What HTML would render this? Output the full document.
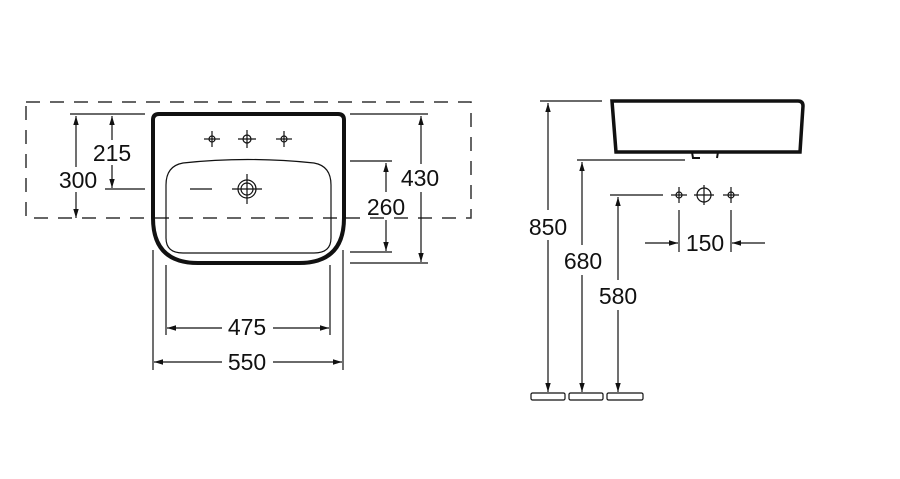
<!DOCTYPE html>
<html><head><meta charset="utf-8"><style>
html,body{margin:0;padding:0;background:#fff;width:900px;height:479px;overflow:hidden}
svg text{font-family:"Liberation Sans",Arial,sans-serif;font-size:23px;fill:#111}
</style></head><body>
<svg width="900" height="479" viewBox="0 0 900 479" xmlns="http://www.w3.org/2000/svg">
<defs>
<marker id="a" viewBox="0 0 10 10" refX="10" refY="5" markerWidth="9" markerHeight="9" orient="auto-start-reverse" markerUnits="userSpaceOnUse"><path d="M0,2 L10,5 L0,8 z" fill="#111"/></marker>
</defs>
<g stroke="#111" fill="none">
<rect x="26" y="102" width="445" height="116" stroke-width="1.5" stroke-dasharray="14,10" stroke="#333"/>
<path d="M153,120 Q153,114 159,114 L338,114 Q344,114 344,120 L344,218 Q344,263 299,263 L198,263 Q153,263 153,218 Z" stroke-width="4" fill="#fff"/>
<line x1="155" y1="218" x2="342" y2="218" stroke-width="1.5" stroke-dasharray="14,10" stroke="#333"/>
<path d="M183,163 Q247,156 314,163 Q331,166 331,185 L331,238 Q331,253 314,253 L183,253 Q166,253 166,238 L166,185 Q166,166 183,163 Z" stroke-width="1.2"/>
<line x1="190" y1="189" x2="212" y2="189" stroke-width="1.2"/>
<g stroke-width="1.2">
<circle cx="212" cy="139" r="3"/><line x1="204" y1="139" x2="220" y2="139"/><line x1="212" y1="131" x2="212" y2="147"/>
<circle cx="247" cy="139" r="4"/><line x1="238" y1="139" x2="256" y2="139"/><line x1="247" y1="130" x2="247" y2="148"/>
<circle cx="284" cy="139" r="3"/><line x1="276" y1="139" x2="292" y2="139"/><line x1="284" y1="131" x2="284" y2="147"/>
<circle cx="247" cy="189" r="9"/><circle cx="247" cy="189" r="6"/><line x1="232" y1="189" x2="262" y2="189"/><line x1="247" y1="174" x2="247" y2="204"/>
</g>
<g stroke-width="1.2">
<line x1="70" y1="114" x2="145" y2="114"/>
<line x1="105" y1="189" x2="145" y2="189"/>
<line x1="76" y1="116" x2="76" y2="167" marker-start="url(#a)"/>
<line x1="76" y1="192" x2="76" y2="218" marker-end="url(#a)"/>
<line x1="112" y1="116" x2="112" y2="140" marker-start="url(#a)"/>
<line x1="112" y1="165" x2="112" y2="188" marker-end="url(#a)"/>
<line x1="350" y1="114" x2="428" y2="114"/>
<line x1="350" y1="263" x2="428" y2="263"/>
<line x1="350" y1="161" x2="392" y2="161"/>
<line x1="350" y1="252" x2="392" y2="252"/>
<line x1="421" y1="116" x2="421" y2="164" marker-start="url(#a)"/>
<line x1="421" y1="192" x2="421" y2="262" marker-end="url(#a)"/>
<line x1="386" y1="163" x2="386" y2="192" marker-start="url(#a)"/>
<line x1="386" y1="220" x2="386" y2="251" marker-end="url(#a)"/>
<line x1="166" y1="265" x2="166" y2="335"/>
<line x1="330" y1="265" x2="330" y2="335"/>
<line x1="153" y1="250" x2="153" y2="370"/>
<line x1="343" y1="250" x2="343" y2="370"/>
<line x1="167" y1="328" x2="222" y2="328" marker-start="url(#a)"/>
<line x1="273" y1="328" x2="329" y2="328" marker-end="url(#a)"/>
<line x1="154" y1="362" x2="222" y2="362" marker-start="url(#a)"/>
<line x1="273" y1="362" x2="342" y2="362" marker-end="url(#a)"/>
</g>
<path d="M612,101 L798,101 Q803,101 803,106 L800,152 L616,152 Z" stroke-width="3.5"/>
<path d="M692,152 L693,158 L700,158 M718,152 L717,158" stroke-width="2"/>
<g stroke-width="1.2">
<line x1="540" y1="101" x2="602" y2="101"/>
<line x1="577" y1="160" x2="685" y2="160"/>
<line x1="610" y1="195" x2="663" y2="195"/>
<line x1="548" y1="103" x2="548" y2="210" marker-start="url(#a)"/>
<line x1="548" y1="240" x2="548" y2="392" marker-end="url(#a)"/>
<line x1="582" y1="162" x2="582" y2="245" marker-start="url(#a)"/>
<line x1="582" y1="275" x2="582" y2="392" marker-end="url(#a)"/>
<line x1="618" y1="197" x2="618" y2="280" marker-start="url(#a)"/>
<line x1="618" y1="310" x2="618" y2="392" marker-end="url(#a)"/>
<circle cx="679" cy="195" r="3"/><line x1="671" y1="195" x2="687" y2="195"/><line x1="679" y1="187" x2="679" y2="203"/>
<circle cx="704" cy="195" r="7"/><line x1="694" y1="195" x2="714" y2="195"/><line x1="704" y1="185" x2="704" y2="205"/>
<circle cx="731" cy="195" r="3"/><line x1="723" y1="195" x2="739" y2="195"/><line x1="731" y1="187" x2="731" y2="203"/>
<line x1="679" y1="210" x2="679" y2="252"/>
<line x1="731" y1="210" x2="731" y2="252"/>
<line x1="645" y1="243" x2="678" y2="243" marker-end="url(#a)"/>
<line x1="765" y1="243" x2="732" y2="243" marker-end="url(#a)"/>
<rect x="531" y="393" width="34" height="7" rx="1.5"/>
<rect x="569" y="393" width="34" height="7" rx="1.5"/>
<rect x="607" y="393" width="36" height="7" rx="1.5"/>
</g>
</g>
<g text-anchor="middle">
<text x="112" y="161">215</text>
<text x="78" y="188">300</text>
<text x="420" y="186">430</text>
<text x="386" y="215">260</text>
<text x="247" y="335">475</text>
<text x="247" y="370">550</text>
<text x="548" y="235">850</text>
<text x="583" y="269">680</text>
<text x="618" y="304">580</text>
<text x="705" y="251">150</text>
</g>
</svg>
</body></html>
